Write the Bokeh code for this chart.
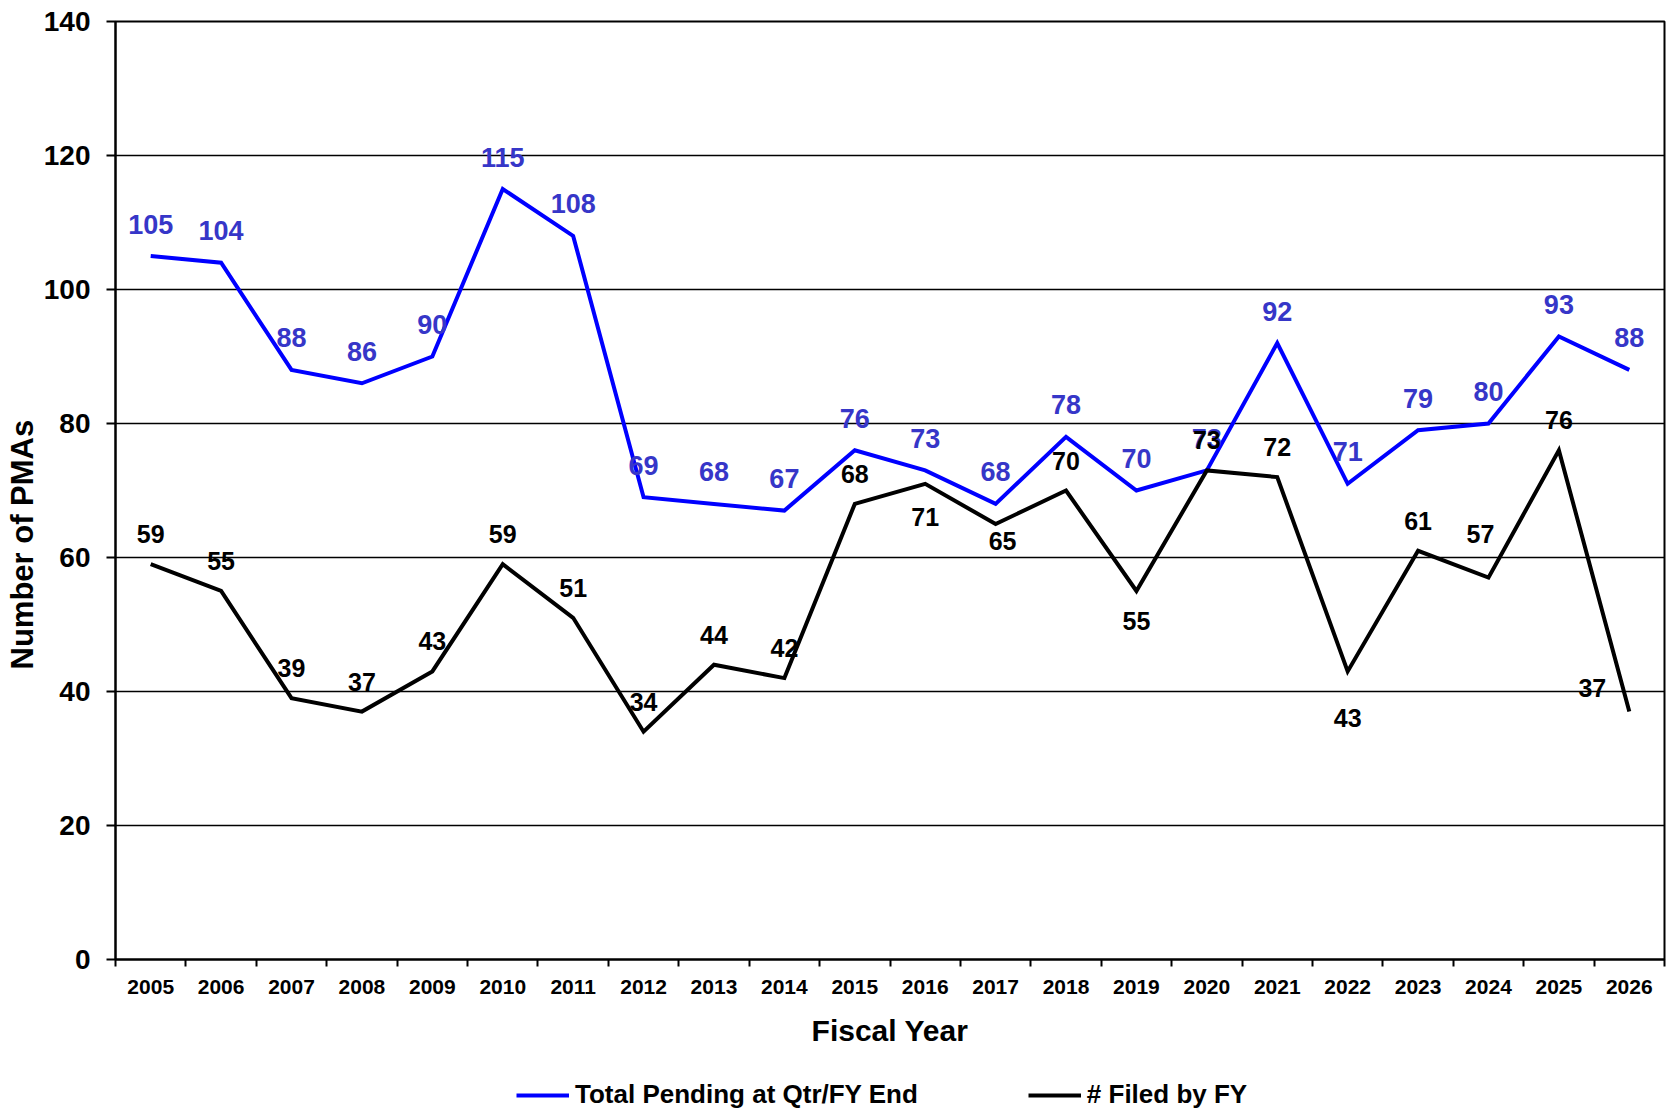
import math
from bokeh.plotting import figure
from bokeh.layouts import column
from bokeh.models import (Range1d, FixedTicker, ColumnDataSource, Title,
                          Legend, LegendItem)
from bokeh.core.properties import value
from bokeh.embed import file_html
from bokeh.resources import INLINE

# ---------------- data ----------------
years = ["2005", "2006", "2007", "2008", "2009", "2010", "2011", "2012",
         "2013", "2014", "2015", "2016", "2017", "2018", "2019", "2020",
         "2021", "2022", "2023", "2024", "2025", "2026"]
pending = [105, 104, 88, 86, 90, 115, 108, 69, 68, 67, 76, 73, 68, 78, 70,
           73, 92, 71, 79, 80, 93, 88]
filed = [59, 55, 39, 37, 43, 59, 51, 34, 44, 42, 68, 71, 65, 70, 55, 73, 72,
         43, 61, 57, 76, 37]
y_ticks = [0, 20, 40, 60, 80, 100, 120, 140]
series_names = ["Total Pending at Qtr/FY End", "# Filed by FY"]

# ---------------- label placement (style, pixels) ----------------
filed_dx = [0, 0, 0, 0, 0, 0, 0, 0, 0, 0, 0, 0, 7, 0, 0, 0, 0, 0, 0, -8, 0, -37]
filed_dy = [-30, -30, -30, -30, -30, -30, -30, -30, -30, -30, -30, 33, 17,
            -30, 30, -30, -30, 47, -30, -44, -30, -24]

FONT_NAME = "Liberation Sans"
FONT = value(FONT_NAME)
BLUE = "#0000ff"

xs = [i + 0.5 for i in range(len(years))]
src = ColumnDataSource(dict(
    x=xs, year=years, pending=pending, filed=filed,
    plbl=[str(v) for v in pending], flbl=[str(v) for v in filed],
    fdx=filed_dx, fdy=filed_dy,
))

p = figure(width=1673, height=1050,
           x_range=Range1d(0, len(years)), y_range=Range1d(0, 140),
           output_backend="svg", toolbar_location=None,
           min_border_left=115, min_border_top=21, min_border_right=9,
           min_border_bottom=91,
           background_fill_color="white", border_fill_color="white")

p.outline_line_color = "black"
p.outline_line_width = 2

# x axis: labels at centers, ticks at boundaries
p.xaxis.ticker = FixedTicker(ticks=xs, minor_ticks=list(range(len(years) + 1)))
p.xaxis.major_label_overrides = {x: y for x, y in zip(xs, years)}
p.xaxis.major_tick_out = 0
p.xaxis.major_tick_in = 0
p.xaxis.minor_tick_out = 7
p.xaxis.minor_tick_in = 0
p.xaxis.minor_tick_line_width = 2
p.xaxis.minor_tick_line_color = "black"
p.xaxis.axis_line_width = 2
p.xaxis.axis_line_color = "black"
p.xaxis.major_label_standoff = 13
p.xaxis.major_label_text_font = FONT_NAME
p.xaxis.major_label_text_font_style = "bold"
p.xaxis.major_label_text_font_size = "21px"
p.xaxis.major_label_text_color = "black"
p.xaxis.axis_label = "Fiscal Year"
p.xaxis.axis_label_text_font = FONT_NAME
p.xaxis.axis_label_text_font_style = "bold"
p.xaxis.axis_label_text_font_size = "30px"
p.xaxis.axis_label_text_color = "black"
p.xaxis.axis_label_standoff = 17

# y axis
p.yaxis.ticker = FixedTicker(ticks=y_ticks)
p.yaxis.major_tick_out = 9
p.yaxis.major_tick_in = 0
p.yaxis.minor_tick_out = 0
p.yaxis.minor_tick_in = 0
p.yaxis.major_tick_line_width = 2
p.yaxis.major_tick_line_color = "black"
p.yaxis.axis_line_width = 2
p.yaxis.axis_line_color = "black"
p.yaxis.major_label_standoff = 16
p.yaxis.major_label_text_font = FONT_NAME
p.yaxis.major_label_text_font_style = "bold"
p.yaxis.major_label_text_font_size = "28px"
p.yaxis.major_label_text_color = "black"

p.xgrid.visible = False
p.ygrid.ticker = FixedTicker(ticks=y_ticks)
p.ygrid.grid_line_color = "black"
p.ygrid.grid_line_width = 1.6

# y axis title (placed below centre as in the original)
p.add_layout(Title(text="Number of PMAs", align="left", offset=290,
                   vertical_align="middle", standoff=0,
                   text_font=FONT_NAME, text_font_style="bold",
                   text_font_size="31px", text_color="black"), "left")

# lines
r_pend = p.line("x", "pending", source=src, line_color=BLUE,
                line_width=4, line_join="miter")
r_filed = p.line("x", "filed", source=src, line_color="black",
                 line_width=4, line_join="miter")

# data labels
p.text("x", "pending", text="plbl", source=src, y_offset=-32,
       text_align="center", text_baseline="middle", text_font=FONT,
       text_font_style="bold", text_font_size="27px", text_color="#3636c8")
p.text("x", "filed", text="flbl", source=src, x_offset="fdx", y_offset="fdy",
       text_align="center", text_baseline="middle", text_font=FONT,
       text_font_style="bold", text_font_size="25px", text_color="black")

# ---------------- legend strip under the chart ----------------
# (same series drawn again, but the strip's ranges keep them out of view;
#  only the legend of this strip is visible)
lg = figure(width=1673, height=60, x_range=Range1d(0, 1), y_range=Range1d(-2, -1),
            output_backend="svg", toolbar_location=None,
            x_axis_location=None, y_axis_location=None,
            min_border_left=0, min_border_right=0, min_border_top=0,
            min_border_bottom=0, outline_line_color=None,
            background_fill_color="white", border_fill_color="white")
lg.grid.visible = False
g_pend = lg.line("x", "pending", source=src, line_color=BLUE, line_width=4)
g_filed = lg.line("x", "filed", source=src, line_color="black", line_width=4)

legend = Legend(items=[
    LegendItem(label=series_names[0], renderers=[g_pend]),
    LegendItem(label=series_names[1], renderers=[g_filed]),
], orientation="horizontal", location=(401, 0),
    label_text_font=FONT_NAME, label_text_font_style="bold",
    label_text_font_size="26px", label_text_color="black",
    glyph_width=53, glyph_height=20, label_standoff=6, spacing=110,
    padding=0, margin=0, border_line_alpha=0, background_fill_alpha=0)
lg.add_layout(legend)

layout = column(p, lg, spacing=0)
open("out.html", "w").write(file_html(layout, INLINE))
